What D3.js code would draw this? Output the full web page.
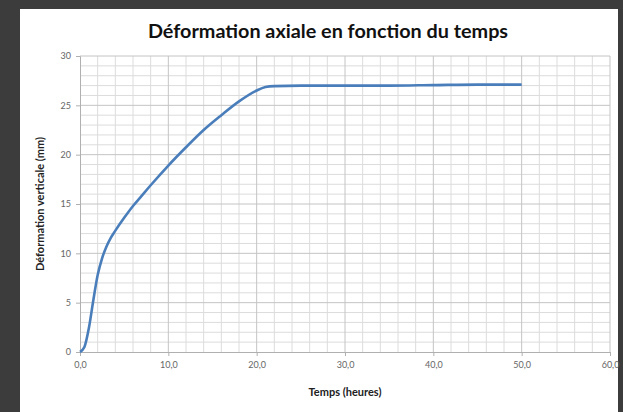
<!DOCTYPE html>
<html>
<head>
<meta charset="utf-8">
<script src="https://cdn.jsdelivr.net/npm/d3@7"></script>
<style>
  body { margin: 0; background: #3c3c3c; }
  svg { display: block; }
</style>
</head>
<body>
<div class="canvas"></div>
<script>
// temps (heures) et deformation (mm)
const temps = [0, 0.5, 1, 1.5, 2, 2.5, 3, 3.5, 4, 5, 6, 7, 8, 10, 12, 14, 16, 18, 20, 21, 22, 25, 30, 35, 40, 45, 50];
const deformation = [0, 0.5, 2.4, 5.2, 7.8, 9.5, 10.7, 11.6, 12.3, 13.6, 14.8, 15.85, 16.9, 18.9, 20.75, 22.5, 24.0, 25.4, 26.5, 26.85, 26.95, 27.0, 27.0, 27.0, 27.05, 27.1, 27.1];
const xTicks = [0, 10, 20, 30, 40, 50, 60];
const yTicks = [0, 5, 10, 15, 20, 25, 30];

const width = 623, height = 412;
const margin = {top: 56, right: 13, bottom: 60, left: 80};
const graphWidth = width - margin.left - margin.right;
const graphHeight = height - margin.top - margin.bottom;

const svg = d3.select(".canvas")
  .append("svg")
    .attr("width", width)
    .attr("height", height);

// fond blanc du graphique
svg.append("rect")
    .attr("x", 20).attr("y", 9)
    .attr("width", 598).attr("height", height - 9)
    .attr("fill", "white");

const graph = svg.append("g")
    .attr('transform', `translate(${margin.left},${margin.top})`);

const x = d3.scaleLinear().domain([0, 60]).range([0, graphWidth]);
const y = d3.scaleLinear().domain([0, 30]).range([graphHeight, 0]);

// grille secondaire
graph.append("g").selectAll("line")
    .data(d3.range(0, 61, 2).filter(d => d % 10 !== 0))
    .enter().append("line")
      .attr("x1", d => x(d)).attr("x2", d => x(d))
      .attr("y1", 0).attr("y2", graphHeight)
      .attr("stroke", "#dcdcdc");
graph.append("g").selectAll("line")
    .data(d3.range(0, 31, 1).filter(d => d % 5 !== 0))
    .enter().append("line")
      .attr("x1", 0).attr("x2", graphWidth)
      .attr("y1", d => y(d)).attr("y2", d => y(d))
      .attr("stroke", "#dcdcdc");

// grille principale
graph.append("g").selectAll("line")
    .data(xTicks.slice(1))
    .enter().append("line")
      .attr("x1", d => x(d)).attr("x2", d => x(d))
      .attr("y1", 0).attr("y2", graphHeight)
      .attr("stroke", "#c4c4c4");
graph.append("g").selectAll("line")
    .data(yTicks.slice(1))
    .enter().append("line")
      .attr("x1", 0).attr("x2", graphWidth)
      .attr("y1", d => y(d)).attr("y2", d => y(d))
      .attr("stroke", "#c4c4c4");

const fmt = d => d.toFixed(1).replace(".", ",");

const xAxis = d3.axisBottom(x).tickValues(xTicks).tickFormat(fmt).tickSize(4).tickPadding(6);
const yAxis = d3.axisLeft(y).tickValues(yTicks).tickSize(4).tickPadding(5);

const xAxisGroup = graph.append("g")
    .attr("transform", `translate(0,${graphHeight})`)
    .call(xAxis);
const yAxisGroup = graph.append("g").call(yAxis);

[xAxisGroup, yAxisGroup].forEach(g => {
  g.select(".domain").attr("stroke", "#b0b0b0");
  g.selectAll(".tick line").attr("stroke", "#b0b0b0");
  g.selectAll(".tick text")
    .attr("fill", "#666")
    .style("font-family", "Lato, sans-serif")
    .style("font-size", "9px");
});

const data = temps.map((t, i) => ({t: t, v: deformation[i]}));

graph.append("path")
    .datum(data)
    .attr("fill", "none")
    .attr("stroke", "#4a7ebb")
    .attr("stroke-width", 2.6)
    .attr("stroke-linejoin", "round")
    .attr("d", d3.line().x(d => x(d.t)).y(d => y(d.v)).curve(d3.curveMonotoneX));

// titres
svg.append("text")
    .attr("x", 328).attr("y", 38)
    .attr("text-anchor", "middle")
    .style("font-family", "Lato, sans-serif")
    .style("font-weight", "bold")
    .style("font-size", "19.8px")
    .attr("fill", "#111")
    .text("Déformation axiale en fonction du temps");

svg.append("text")
    .attr("x", 345).attr("y", 396)
    .attr("text-anchor", "middle")
    .style("font-family", "Lato, sans-serif")
    .style("font-weight", "bold")
    .style("font-size", "11px")
    .attr("fill", "#222")
    .text("Temps (heures)");

svg.append("text")
    .attr("transform", "translate(44,204) rotate(-90)")
    .attr("text-anchor", "middle")
    .style("font-family", "Lato, sans-serif")
    .style("font-weight", "bold")
    .style("font-size", "11px")
    .attr("fill", "#222")
    .text("Déformation verticale (mm)");
</script>
</body>
</html>
